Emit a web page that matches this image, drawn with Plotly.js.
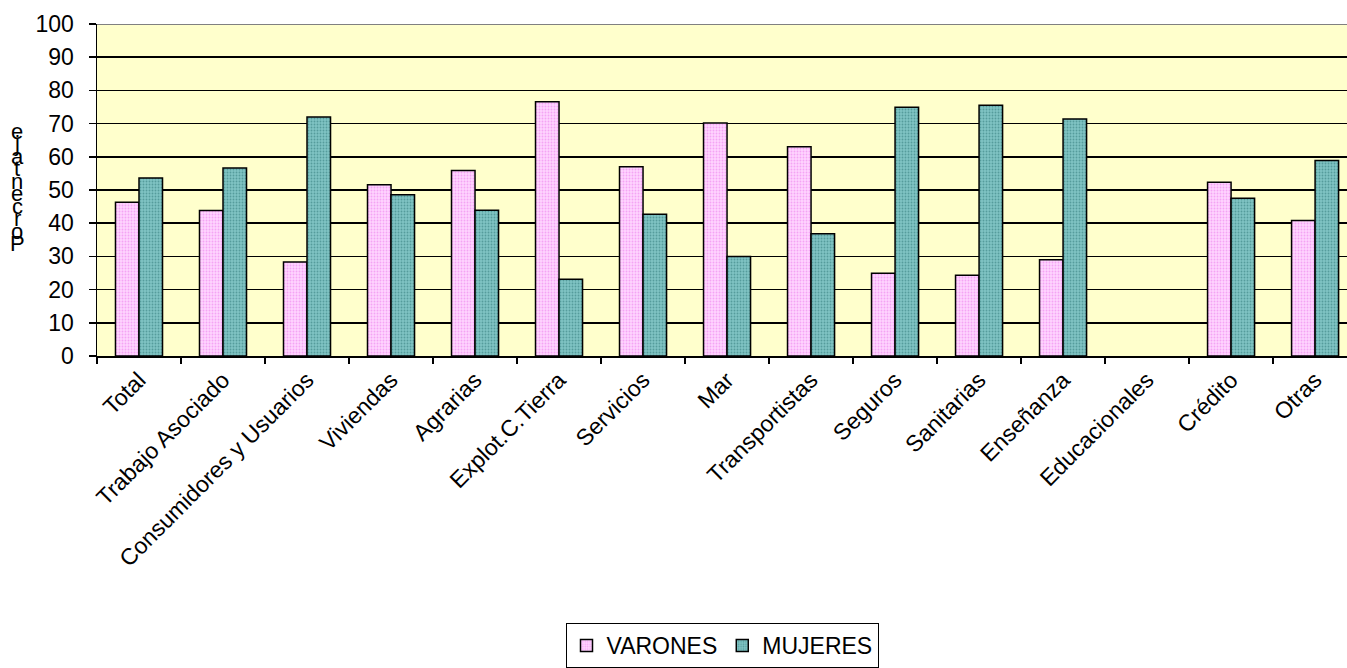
<!DOCTYPE html>
<html>
<head>
<meta charset="utf-8">
<script src="https://cdn.plot.ly/plotly-3.0.1.min.js"></script>
<style>html,body{margin:0;padding:0;background:#fff;}#chart{width:1347px;height:668px;}</style>
</head>
<body>
<div id="chart"></div>
<script>
var categories = ["Total", "Trabajo Asociado", "Consumidores y Usuarios", "Viviendas", "Agrarias",
  "Explot.C.Tierra", "Servicios", "Mar", "Transportistas", "Seguros", "Sanitarias",
  "Enseñanza", "Educacionales", "Crédito", "Otras"];
var varones = [46.3, 43.8, 28.3, 51.6, 55.9, 76.6, 57.0, 70.2, 63.0, 24.9, 24.3, 29.0, null, 52.3, 40.8];
var mujeres = [53.6, 56.6, 72.0, 48.6, 43.9, 23.1, 42.7, 30.0, 36.8, 74.9, 75.5, 71.4, null, 47.5, 58.9];
var yTicks = [0, 10, 20, 30, 40, 50, 60, 70, 80, 90, 100];
var yTitle = "Porcentaje";

var fontFam = "Liberation Sans, Arial, sans-serif";

var traces = [
  {type: "bar", name: "VARONES", x: categories, y: varones,
   marker: {color: "#FFCCFF", line: {color: "#000", width: 1.5},
            pattern: {shape: ".", fgcolor: "#F4A4F4", bgcolor: "#FFD4FF", size: 3, solidity: 0.3}}},
  {type: "bar", name: "MUJERES", x: categories, y: mujeres,
   marker: {color: "#70B8B8", line: {color: "#000", width: 1.5},
            pattern: {shape: ".", fgcolor: "#559C9C", bgcolor: "#80C4C4", size: 3, solidity: 0.3}}}
];

// vertical stacked letters of the y-axis title (bottom to top)
var annotations = [];
var letters = yTitle.split("");
for (var i = 0; i < letters.length; i++) {
  annotations.push({
    xref: "paper", yref: "paper",
    x: -0.064, y: 0.338 + i * 0.0377,
    xanchor: "center", yanchor: "middle",
    text: i === 0 ? letters[i] : letters[i].toLowerCase(),
    showarrow: false,
    font: {family: fontFam, size: 22, color: "#000"}
  });
}

var layout = {
  width: 1347, height: 668,
  margin: {l: 97, r: 0, t: 24, b: 310},
  paper_bgcolor: "#ffffff",
  plot_bgcolor: "#FFFFCC",
  barmode: "group",
  bargap: 0.44,
  bargroupgap: 0,
  showlegend: true,
  legend: {
    orientation: "h", x: 0.5, xanchor: "center", y: -0.805, yanchor: "top",
    bordercolor: "#000", borderwidth: 1, bgcolor: "#fff",
    font: {family: fontFam, size: 23, color: "#000"},
    itemwidth: 30, traceorder: "normal"
  },
  xaxis: {
    type: "category",
    range: [-0.5, 14.38],
    tickangle: -45,
    tickson: "boundaries",
    ticks: "outside", ticklen: 6, tickwidth: 1.5, tickcolor: "#000",
    showline: true, linecolor: "#000", linewidth: 1.5,
    showgrid: false,
    tickfont: {family: fontFam, size: 23, color: "#000"},
    automargin: false
  },
  yaxis: {
    range: [0, 100],
    tickvals: yTicks,
    ticks: "outside", ticklen: 7, tickwidth: 1.5, tickcolor: "#000",
    ticklabelstandoff: 10,
    showline: true, linecolor: "#000", linewidth: 1.5,
    showgrid: true, gridcolor: "#000", gridwidth: 1.5,
    zeroline: false,
    tickfont: {family: fontFam, size: 23, color: "#000"},
    automargin: false
  },
  shapes: [
    {type: "line", xref: "paper", yref: "y", x0: 0, x1: 1, y0: 100, y1: 100,
     line: {color: "#808080", width: 2}, layer: "above"}
  ],
  annotations: annotations
};

Plotly.newPlot("chart", traces, layout, {displayModeBar: false, staticPlot: true});
</script>
</body>
</html>
